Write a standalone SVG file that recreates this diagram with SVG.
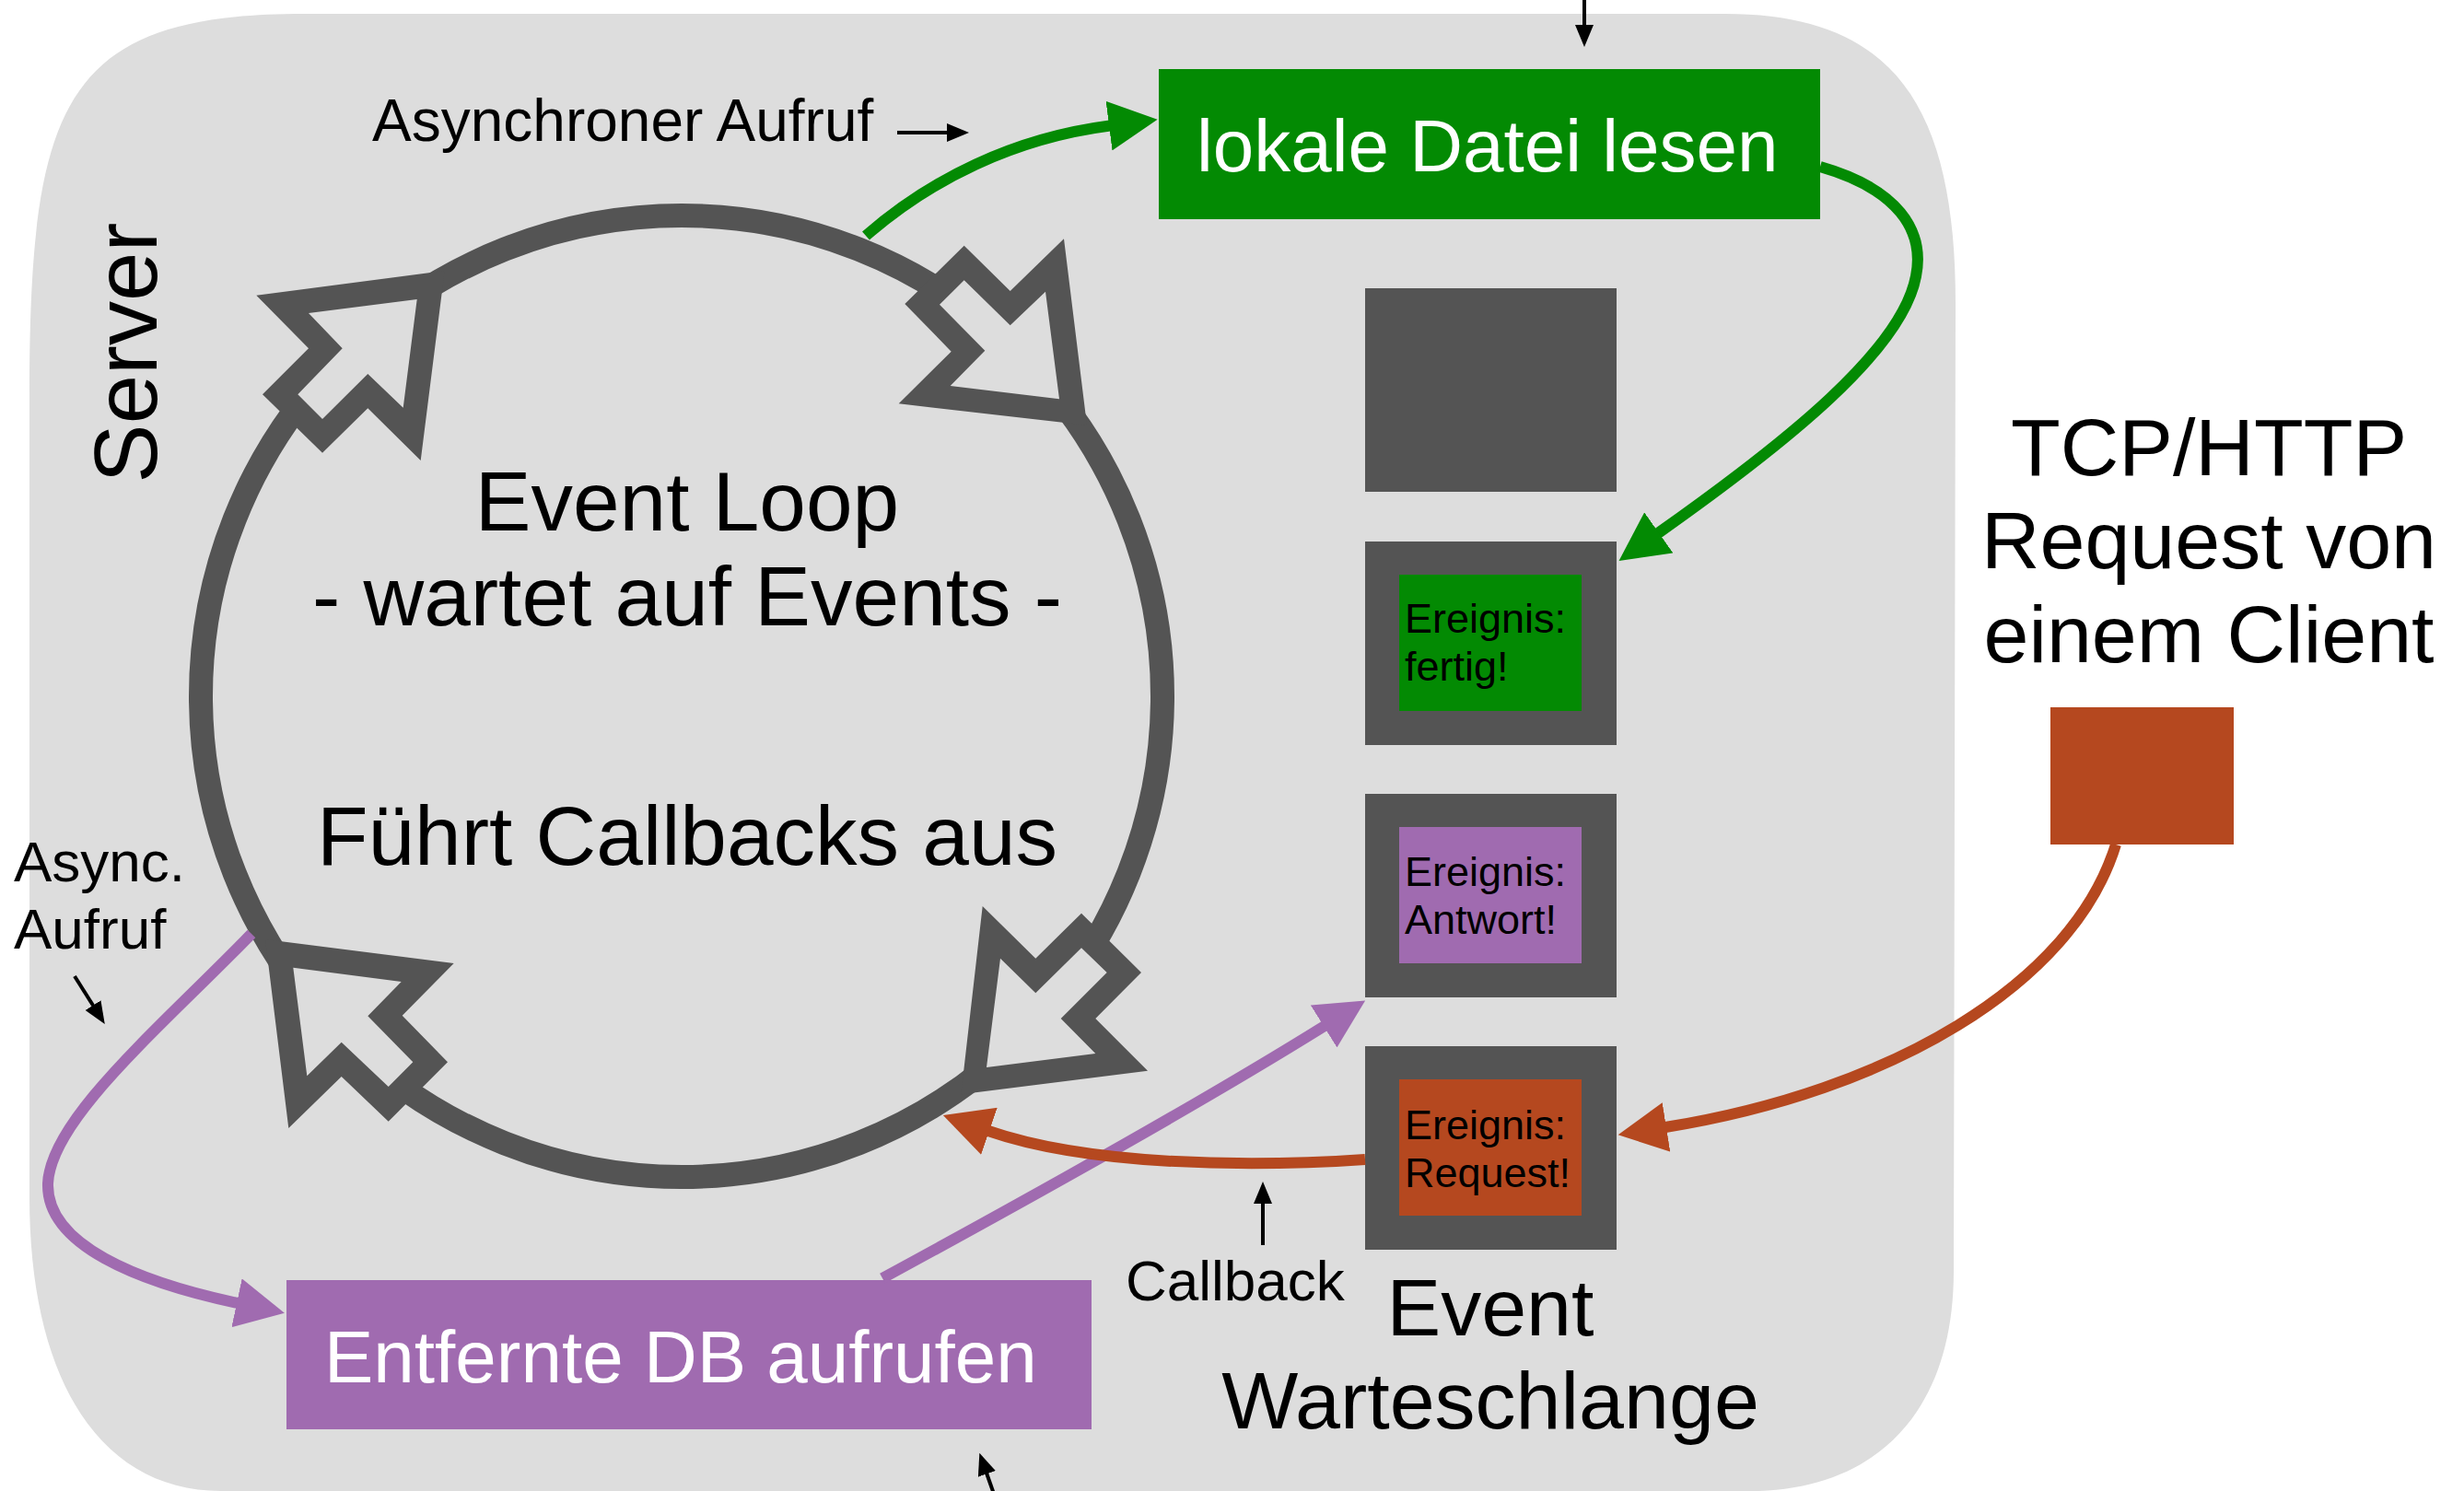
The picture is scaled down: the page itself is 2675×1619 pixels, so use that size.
<svg xmlns="http://www.w3.org/2000/svg" width="2675" height="1619" viewBox="0 0 2675 1619">
  <style>
    text { font-family: "Liberation Sans", Arial, sans-serif; fill: #000; }
    .big { font-size: 88px; }
    .loop { font-size: 91px; text-anchor: middle; }
    .box { font-size: 80px; fill: #fff; }
    .small { font-size: 62px; }
    .ev { font-size: 45px; }
    .dark { fill: #545454; }
    .bg { fill: #dddddd; }
    .arr { fill: #545454; }
    .arrin { fill: #dddddd; }
    .conn { fill: none; stroke-width: 12; }
    .thin { fill: none; stroke: #000; stroke-width: 4; }
  </style>
  <defs>
    <marker id="mGreen" markerUnits="userSpaceOnUse" markerWidth="54" markerHeight="54" refX="1" refY="27" orient="auto" viewBox="0 0 54 54">
      <path d="M0,0 L53,27 L0,54 Z" fill="#038a03"/>
    </marker>
    <marker id="mPurple" markerUnits="userSpaceOnUse" markerWidth="54" markerHeight="54" refX="1" refY="27" orient="auto" viewBox="0 0 54 54">
      <path d="M0,0 L53,27 L0,54 Z" fill="#a06bb0"/>
    </marker>
    <marker id="mRed" markerUnits="userSpaceOnUse" markerWidth="54" markerHeight="54" refX="1" refY="27" orient="auto" viewBox="0 0 54 54">
      <path d="M0,0 L53,27 L0,54 Z" fill="#b5481f"/>
    </marker>
    <marker id="mBlack" markerUnits="userSpaceOnUse" markerWidth="24" markerHeight="20" refX="1" refY="10" orient="auto" viewBox="0 0 24 20">
      <path d="M0,0 L24,10 L0,20 Z" fill="#000"/>
    </marker>
  </defs>

  <g id="server">
    <path class="bg" d="M330,15 L1873,15 C2060,15 2123,120 2123,330 L2121,1380 C2121,1540 2030,1619 1900,1619 L240,1619 C110,1619 32,1500 32,1300 L32,430 C32,110 70,15 330,15 Z"/>
    <text transform="translate(170,383) rotate(-90)" font-size="96" text-anchor="middle">Server</text>
  </g>

  <g id="event-loop">
    <circle cx="740" cy="756" r="522" fill="none" stroke="#545454" stroke-width="26"/>
    <polygon class="arr" points="278.3,320.7 482.7,294 456.7,500 399.3,443.3 350,491.7 285,428.3 335,378.3"/>
    <polygon class="arrin" points="335,340 452.7,325 437.7,442.7 399.3,406 350,455 323.3,428.3 371.7,378.3"/>
    <polygon class="arr" points="982.3,330 1046.7,266.7 1096.7,316 1155,259.3 1180,461.7 975.7,438.3 1032.7,381.7"/>
    <polygon class="arrin" points="1020,330.7 1046.7,304.3 1096.7,353.3 1135,316.7 1150,433.3 1031.7,419 1069.3,380.7"/>
    <polygon class="arr" points="1066.7,984 1124.3,1040.7 1174,991.7 1239,1056 1189.3,1106 1246,1162.7 1043.3,1188.3"/>
    <polygon class="arrin" points="1086,1040.7 1124.3,1078.3 1174,1029.3 1201.7,1056 1151.7,1106 1189.3,1144 1071,1159"/>
    <polygon class="arr" points="492.7,1046 436.7,1102.7 486,1153.3 421.7,1217.7 370.7,1169 313.3,1225 288,1020"/>
    <polygon class="arrin" points="435.7,1066 399.3,1103.3 448.3,1153.3 421.7,1180 370.7,1131.7 333.3,1168.3 318.3,1050.7"/>
    <text class="loop" x="746" y="576">Event Loop</text>
    <text class="loop" x="746" y="679">- wartet auf Events -</text>
    <text class="loop" x="746" y="939">Führt Callbacks aus</text>
  </g>

  <g id="lokale-datei">
    <rect x="1258" y="75" width="718" height="163" fill="#038a03"/>
    <text class="box" x="1299" y="186">lokale Datei lesen</text>
  </g>

  <g id="entfernte-db">
    <rect x="311" y="1390" width="874" height="162" fill="#a06bb0"/>
    <text class="box" x="352" y="1501">Entfernte DB aufrufen</text>
  </g>

  <g id="queue-empty">
    <rect class="dark" x="1482" y="313" width="273" height="221"/>
  </g>
  <g id="queue-fertig">
    <rect class="dark" x="1482" y="588" width="273" height="221"/>
    <rect x="1519" y="624" width="198" height="148" fill="#038a03"/>
    <text class="ev" x="1525" y="687">Ereignis:</text>
    <text class="ev" x="1525" y="739">fertig!</text>
  </g>
  <g id="queue-antwort">
    <rect class="dark" x="1482" y="862" width="273" height="221"/>
    <rect x="1519" y="898" width="198" height="148" fill="#a06bb0"/>
    <text class="ev" x="1525" y="962">Ereignis:</text>
    <text class="ev" x="1525" y="1014">Antwort!</text>
  </g>
  <g id="queue-request">
    <rect class="dark" x="1482" y="1136" width="273" height="221"/>
    <rect x="1519" y="1172" width="198" height="148" fill="#b5481f"/>
    <text class="ev" x="1525" y="1237">Ereignis:</text>
    <text class="ev" x="1525" y="1289">Request!</text>
  </g>
  <g id="queue-label">
    <text class="big" x="1618" y="1450" text-anchor="middle">Event</text>
    <text class="big" x="1618" y="1551" text-anchor="middle">Warteschlange</text>
  </g>

  <g id="client">
    <text class="big" x="2398" y="516" text-anchor="middle">TCP/HTTP</text>
    <text class="big" x="2398" y="617" text-anchor="middle">Request von</text>
    <text class="big" x="2398" y="719" text-anchor="middle">einem Client</text>
    <rect x="2226" y="768" width="199" height="149" fill="#b5481f"/>
  </g>

  <g id="connectors">
    <path class="conn" stroke="#038a03" d="M940,256 C1010,195 1100,150 1205,136.5" marker-end="url(#mGreen)"/>
    <path class="conn" stroke="#038a03" d="M1976,181 C2060,205 2090,250 2080,300 C2065,380 1940,480 1800,579" marker-end="url(#mGreen)"/>
    <path class="conn" stroke="#a06bb0" d="M273,1014 C175,1115 55,1215 52,1285 C50,1352 150,1392 258,1415" marker-end="url(#mPurple)"/>
    <path class="conn" stroke="#a06bb0" d="M958,1388 C1120,1300 1300,1200 1438,1114" marker-end="url(#mPurple)"/>
    <path class="conn" stroke="#b5481f" d="M2297,917 C2250,1070 2050,1185 1808,1224" marker-end="url(#mRed)"/>
    <path class="conn" stroke="#b5481f" d="M1482,1259 C1350,1268 1180,1265 1073,1228" marker-end="url(#mRed)"/>
  </g>

  <g id="labels">
    <text class="small" x="404" y="153" font-size="64" style="font-size:64px">Asynchroner Aufruf</text>
    <text class="small" x="15" y="957">Async.</text>
    <text class="small" x="15" y="1030">Aufruf</text>
    <text class="small" x="1222" y="1412">Callback</text>
    <path class="thin" d="M1720,-5 L1720,28" marker-end="url(#mBlack)"/>
    <path class="thin" d="M974,144 L1029,144" marker-end="url(#mBlack)"/>
    <path class="thin" d="M1371,1352 L1371,1306" marker-end="url(#mBlack)"/>
    <path class="thin" d="M81,1060 L101.5,1092.5" marker-end="url(#mBlack)"/>
    <path class="thin" d="M1080,1625 L1071,1599.5" marker-end="url(#mBlack)"/>
  </g>
</svg>
